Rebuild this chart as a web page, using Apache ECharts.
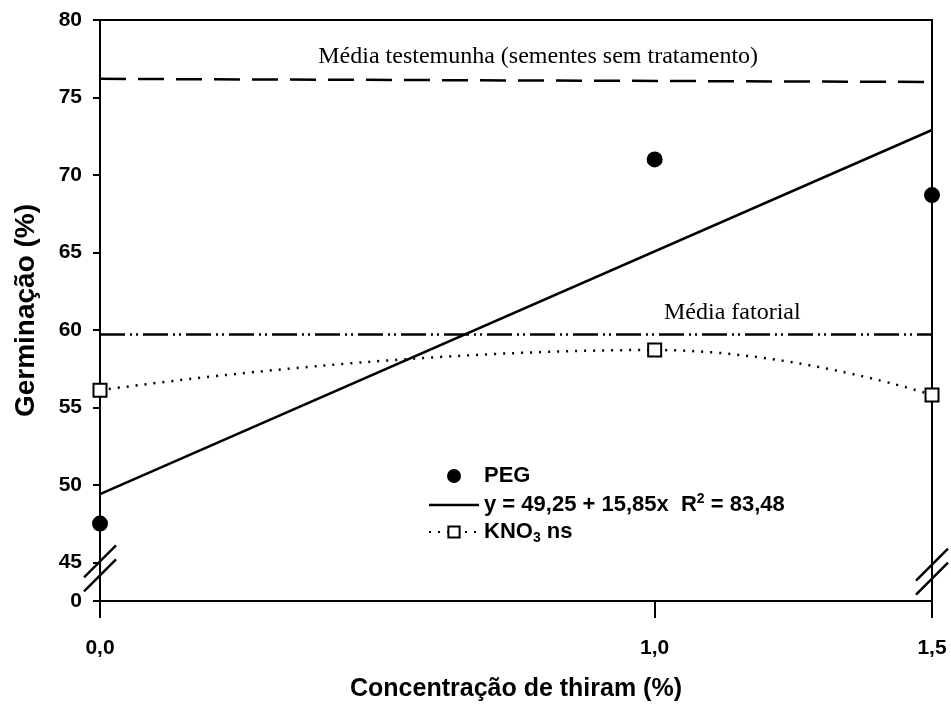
<!DOCTYPE html>
<html>
<head>
<meta charset="utf-8">
<script src="https://cdn.jsdelivr.net/npm/echarts@6/dist/echarts.min.js"></script>
<style>
    html, body { margin: 0; padding: 0; background: #fff; }
    #chart { width: 951px; height: 709px; }
</style>
</head>
<body>
<div id="chart"></div>
<script>
// concentração de thiram (%)
var xValues = [0, 1.0, 1.5];
var pegValues = [47.5, 71.0, 68.7];
var kno3Values = [56.1, 58.7, 55.8];
// reta ajustada y = 49,25 + 15,85x, extremos
var fitX = [0, 1.5];
var fitValues = [49.4, 72.9];
// médias de referência (esquerda, direita)
var testemunhaValues = [76.2, 76.0];
var fatorialValues = [59.7, 59.7];
// eixos: 42,5 fica abaixo da quebra e aparece como "0"
var xTicks = [0, 1.0, 1.5];
var yTicks = [42.5, 45, 50, 55, 60, 65, 70, 75, 80];
var yTickLabels = ['0', '45', '50', '55', '60', '65', '70', '75', '80'];

var sans = '"Liberation Sans", Arial, sans-serif';
var serif = '"Liberation Serif", "Times New Roman", serif';

function pairs (xs, ys) {
    return xs.map(function (x, i) { return [x, ys[i]]; });
}

var myChart = echarts.init(document.getElementById('chart'));

var option = {
    backgroundColor: '#fff',
    animation: false,
    grid: {
        left: 100,
        right: 19,
        top: 20,
        bottom: 108,
        show: true,
        borderColor: '#000',
        borderWidth: 2,
        outerBoundsMode: 'none'
    },
    legend: {
        orient: 'vertical',
        left: 423,
        top: 460,
        itemWidth: 50,
        itemHeight: 14,
        itemGap: 5,
        data: [
            {name: 'PEG'},
            {name: 'Ajuste', icon: 'path://M0,0 L50,0 L50,2.5 L0,2.5 Z'},
            {name: 'KNO3'}
        ],
        textStyle: {
            fontFamily: sans,
            fontWeight: 'bold',
            fontSize: 22,
            color: '#000',
            rich: {
                t: { fontFamily: sans, fontWeight: 'bold', fontSize: 22, color: '#000', lineHeight: 26 },
                sup: { fontFamily: sans, fontWeight: 'bold', fontSize: 14, color: '#000', lineHeight: 14, verticalAlign: 'top' },
                sub: { fontFamily: sans, fontWeight: 'bold', fontSize: 14, color: '#000', lineHeight: 12, verticalAlign: 'bottom' }
            }
        },
        formatter: function (name) {
            if (name === 'Ajuste') {
                return '{t|y = 49,25 + 15,85x  R}{sup|2}{t| = 83,48}';
            }
            if (name === 'KNO3') {
                return '{t|KNO}{sub|3}{t| ns}';
            }
            return '{t|PEG}';
        }
    },
    xAxis: {
        type: 'value',
        min: 0,
        max: 1.5,
        name: 'Concentração de thiram (%)',
        nameLocation: 'middle',
        nameGap: 76,
        nameTextStyle: { fontFamily: sans, fontWeight: 'bold', fontSize: 25, color: '#000' },
        axisLine: { lineStyle: { color: '#000', width: 2 } },
        axisTick: { customValues: xTicks, length: 17, lineStyle: { color: '#000', width: 2 } },
        axisLabel: {
            customValues: xTicks,
            margin: 37,
            fontFamily: sans,
            fontWeight: 'bold',
            fontSize: 21,
            color: '#000',
            formatter: function (v) { return v.toFixed(1).replace('.', ','); }
        },
        splitLine: { show: false }
    },
    yAxis: {
        type: 'value',
        min: 42.5,
        max: 80,
        name: 'Germinação (%)',
        nameLocation: 'middle',
        nameGap: 60,
        nameRotate: 90,
        nameTextStyle: { fontFamily: sans, fontWeight: 'bold', fontSize: 28, color: '#000' },
        axisLine: { lineStyle: { color: '#000', width: 2 } },
        axisTick: { customValues: yTicks, length: 7, lineStyle: { color: '#000', width: 2 } },
        axisLabel: {
            customValues: yTicks,
            margin: 18,
            fontFamily: sans,
            fontWeight: 'bold',
            fontSize: 21,
            color: '#000',
            formatter: function (v) { return yTickLabels[yTicks.indexOf(v)]; }
        },
        splitLine: { show: false }
    },
    series: [
        {
            name: 'Testemunha',
            type: 'line',
            data: pairs(fitX, testemunhaValues),
            symbol: 'none',
            silent: true,
            clip: false,
            lineStyle: { color: '#000', width: 2.5, type: [26, 12] }
        },
        {
            name: 'Fatorial',
            type: 'line',
            data: pairs(fitX, fatorialValues),
            symbol: 'none',
            silent: true,
            clip: false,
            lineStyle: { color: '#000', width: 2.5, type: [25, 5, 2, 4, 2, 5] }
        },
        {
            name: 'Ajuste',
            type: 'line',
            data: pairs(fitX, fitValues),
            symbol: 'none',
            clip: false,
            itemStyle: { color: '#000' },
            lineStyle: { color: '#000', width: 2.5 }
        },
        {
            name: 'KNO3',
            type: 'line',
            smooth: true,
            data: pairs(xValues, kno3Values),
            symbol: 'rect',
            symbolSize: 13,
            clip: false,
            itemStyle: { color: '#fff', borderColor: '#000', borderWidth: 2 },
            lineStyle: { color: '#000', width: 2.5, type: [2, 7] },
            z: 3
        },
        {
            name: 'PEG',
            type: 'scatter',
            data: pairs(xValues, pegValues),
            symbol: 'circle',
            symbolSize: 16,
            clip: false,
            itemStyle: { color: '#000', opacity: 1 },
            z: 4
        }
    ]
};

myChart.setOption(option);

// textos das médias e marcas de quebra do eixo
function slash (c, dy) {
    return {
        type: 'line',
        shape: { x1: c[0] - 16, y1: c[1] + dy + 16, x2: c[0] + 16, y2: c[1] + dy - 16 },
        style: { stroke: '#000', lineWidth: 2.5 },
        z: 10
    };
}
var pTest = myChart.convertToPixel({gridIndex: 0}, [0.79, 77.6]);
var pFat = myChart.convertToPixel({gridIndex: 0}, [1.14, 61.1]);
var bL = myChart.convertToPixel({gridIndex: 0}, [0, 44.6]);
var bR = myChart.convertToPixel({gridIndex: 0}, [1.5, 44.4]);
myChart.setOption({
    graphic: [
        {
            type: 'text',
            x: pTest[0],
            y: pTest[1],
            style: {
                text: 'Média testemunha (sementes sem tratamento)',
                font: '24px ' + serif,
                fill: '#000',
                align: 'center',
                verticalAlign: 'middle'
            }
        },
        {
            type: 'text',
            x: pFat[0],
            y: pFat[1],
            style: {
                text: 'Média fatorial',
                font: '24px ' + serif,
                fill: '#000',
                align: 'center',
                verticalAlign: 'middle'
            }
        },
        slash(bL, -7),
        slash(bL, 7),
        slash(bR, -7),
        slash(bR, 7)
    ]
});
</script>
</body>
</html>
